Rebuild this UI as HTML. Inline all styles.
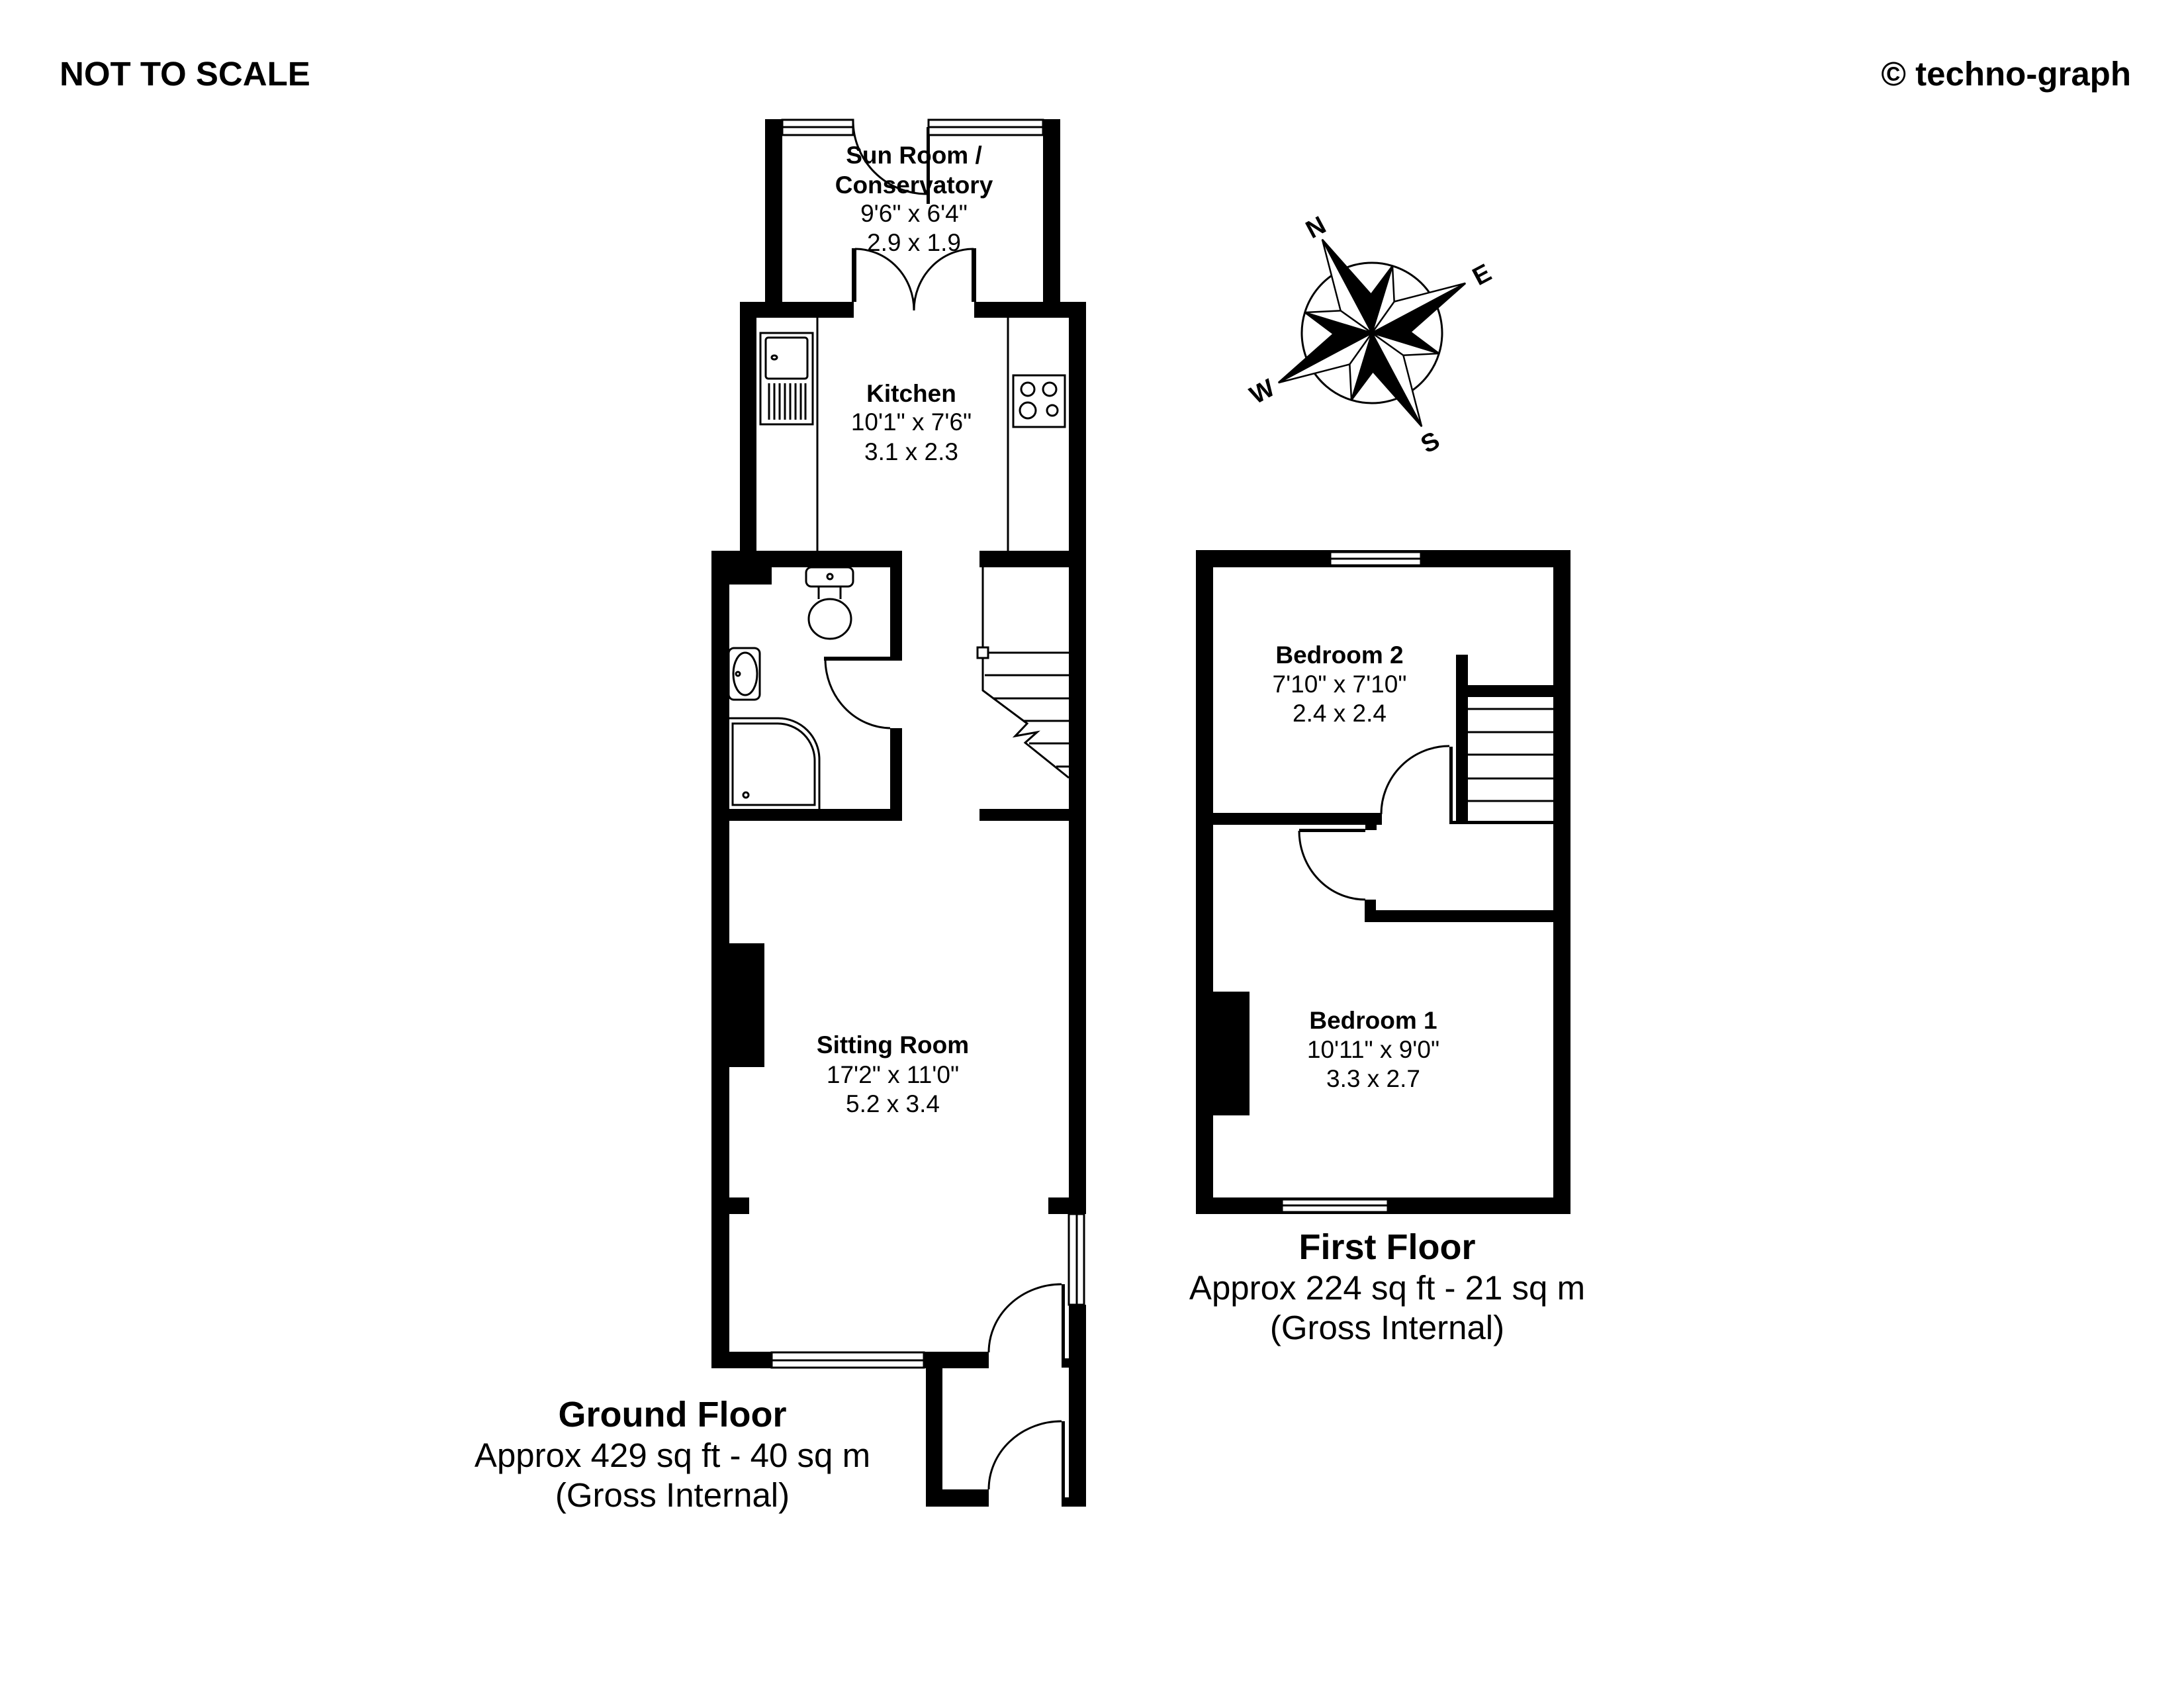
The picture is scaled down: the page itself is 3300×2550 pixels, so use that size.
<!DOCTYPE html>
<html><head><meta charset="utf-8"><style>
html,body{margin:0;padding:0;background:#fff}
svg{display:block}
text{font-family:"Liberation Sans",Arial,sans-serif;fill:#000}
.b{font-weight:bold}
</style></head><body>
<svg width="3300" height="2550" viewBox="0 0 3300 2550" xmlns="http://www.w3.org/2000/svg">
<rect width="3300" height="2550" fill="#fff"/>
<text x="90" y="129" class="b" font-size="51">NOT TO SCALE</text>
<text x="3220" y="129" class="b" font-size="51" text-anchor="end">© techno-graph</text>

<g fill="#000">
<rect x="1156" y="180" width="26" height="300"/>
<rect x="1576" y="180" width="26" height="300"/>
<rect x="1287" y="375" width="7" height="81"/>
<rect x="1468" y="375" width="7" height="81"/>
<rect x="1400" y="192" width="5" height="116"/>
<rect x="1118" y="456" width="172" height="24"/>
<rect x="1472" y="456" width="169" height="24"/>
<rect x="1118" y="456" width="25" height="401"/>
<rect x="1615" y="456" width="26" height="1378"/>
<rect x="1075" y="832" width="288" height="25"/>
<rect x="1480" y="832" width="161" height="25"/>
<rect x="1075" y="832" width="27" height="1235"/>
<rect x="1101" y="857" width="65" height="26"/>
<rect x="1345" y="857" width="18" height="140"/>
<rect x="1245" y="992" width="118" height="6"/>
<rect x="1345" y="1100" width="18" height="140"/>
<rect x="1075" y="1222" width="288" height="18"/>
<rect x="1480" y="1222" width="161" height="18"/>
<rect x="1102" y="1809" width="30" height="25"/>
<rect x="1584" y="1809" width="31" height="25"/>
<rect x="1102" y="1425" width="53" height="187"/>
<rect x="1615" y="1971" width="26" height="305"/>
<rect x="1075" y="2042" width="91" height="25"/>
<rect x="1396" y="2042" width="98" height="25"/>
<rect x="1604" y="1940" width="5" height="115"/>
<rect x="1399" y="2067" width="25" height="209"/>
<rect x="1399" y="2250" width="95" height="26"/>
<rect x="1604" y="2147" width="5" height="117"/>
<rect x="1604" y="2262" width="37" height="14"/>
<rect x="1604" y="2052" width="37" height="14"/>
</g>

<g fill="#fff" stroke="#000" stroke-width="3">
<rect x="1182" y="181" width="107" height="23"/>
<line x1="1182" y1="192" x2="1289" y2="192"/>
<rect x="1403" y="181" width="173" height="23"/>
<line x1="1403" y1="192" x2="1576" y2="192"/>
<rect x="1615" y="1834" width="23" height="137"/>
<line x1="1627" y1="1834" x2="1627" y2="1971"/>
<rect x="1166" y="2043" width="230" height="23"/>
<line x1="1166" y1="2055" x2="1396" y2="2055"/>
</g>

<g fill="none" stroke="#000" stroke-width="3">
<path d="M1289,182 A111,111 0 0 0 1400,293"/>
<path d="M1292,376 A89,93 0 0 1 1381,469"/>
<path d="M1471,376 A90,93 0 0 0 1381,469"/>
<line x1="1235" y1="480" x2="1235" y2="832"/>
<line x1="1523" y1="480" x2="1523" y2="832"/>
<rect x="1149" y="503" width="79" height="138"/>
<rect x="1157" y="510" width="63" height="62" rx="4"/>
<ellipse cx="1170" cy="540" rx="4" ry="3"/>
<path d="M1162,579V634M1170,579V634M1178,579V634M1186,579V634M1194,579V634M1202,579V634M1210,579V634M1217,579V634"/>
<rect x="1531" y="567" width="78" height="78"/>
<circle cx="1553" cy="588" r="10"/><circle cx="1586" cy="588" r="10"/>
<circle cx="1553" cy="620" r="12"/><circle cx="1590" cy="620" r="8"/>
<rect x="1218" y="857" width="71" height="29" rx="8"/>
<circle cx="1254" cy="871" r="4"/>
<path d="M1237,886V905M1270,886V905"/>
<ellipse cx="1254" cy="935" rx="32" ry="30"/>
<rect x="1101" y="979" width="47" height="78" rx="8"/>
<ellipse cx="1126" cy="1018" rx="18" ry="32"/>
<circle cx="1115" cy="1018" r="3"/>
<path d="M1101,1085H1176A62,62 0 0 1 1238,1147V1222"/>
<path d="M1107,1093H1175A56,56 0 0 1 1231,1149V1216H1107Z"/>
<circle cx="1127" cy="1201" r="4"/>
<path d="M1247,995 A100,105 0 0 0 1345,1100"/>
<path d="M1485,857V978M1485,994V1043L1552,1093L1534,1112L1567,1106L1549,1122L1615,1175"/>
<rect x="1477" y="978" width="16" height="16"/>
<path d="M1493,986H1615M1488,1020H1615M1500,1055H1615M1547,1089H1615M1555,1123H1615M1596,1158H1615"/>
<path d="M1494,2043 A110,103 0 0 1 1604,1940"/>
<path d="M1494,2250 A110,103 0 0 1 1604,2147"/>
</g>

<g fill="#000">
<rect x="1807" y="831" width="566" height="26"/>
<rect x="1807" y="831" width="26" height="1003"/>
<rect x="2347" y="831" width="26" height="1003"/>
<rect x="1807" y="1809" width="566" height="25"/>
<rect x="2200" y="989" width="18" height="256"/>
<rect x="2218" y="1035" width="129" height="18"/>
<rect x="2190" y="1128" width="5" height="117"/>
<rect x="2190" y="1240" width="157" height="5"/>
<rect x="1833" y="1228" width="255" height="18"/>
<rect x="2063" y="1246" width="17" height="8"/>
<rect x="1963" y="1252" width="100" height="5"/>
<rect x="2062" y="1359" width="17" height="34"/>
<rect x="2062" y="1375" width="285" height="18"/>
<rect x="1833" y="1498" width="55" height="187"/>
</g>
<g fill="#fff" stroke="#000" stroke-width="3">
<rect x="2010" y="834" width="137" height="20"/>
<line x1="2010" y1="844" x2="2147" y2="844"/>
<rect x="1937" y="1812" width="160" height="19"/>
<line x1="1937" y1="1821" x2="2097" y2="1821"/>
</g>
<g fill="none" stroke="#000" stroke-width="3">
<path d="M2218,1071H2347M2218,1106H2347M2218,1140H2347M2218,1176H2347M2218,1210H2347"/>
<path d="M2087,1230 A103,103 0 0 1 2190,1127"/>
<path d="M1963,1255 A100,104 0 0 0 2063,1359"/>
</g>

<g transform="translate(2073,503) rotate(-28)">
<circle r="106" fill="#fff" stroke="#000" stroke-width="3"/>
<g stroke="#000" stroke-width="2.5" stroke-linejoin="miter">
<g id="sec">
<path d="M0,0 L0,-106 L-22,-45Z" fill="#000"/>
<path d="M0,0 L0,-106 L22,-45Z" fill="#fff"/>
</g>
<use href="#sec" transform="rotate(45)"/>
<use href="#sec" transform="rotate(135)"/>
<use href="#sec" transform="rotate(225)"/>
<use href="#sec" transform="rotate(315)"/>
<g id="mn">
<path d="M0,0 L0,-160 L-26,-52Z" fill="#fff"/>
<path d="M0,0 L0,-160 L26,-52Z" fill="#000"/>
</g>
<use href="#mn" transform="rotate(90)"/>
<use href="#mn" transform="rotate(180)"/>
<use href="#mn" transform="rotate(270)"/>
</g>
<text x="0" y="-168" class="b" font-size="38" text-anchor="middle">N</text>
<text x="188" y="13" class="b" font-size="38" text-anchor="middle">E</text>
<text x="0" y="200" class="b" font-size="38" text-anchor="middle">S</text>
<text x="-188" y="13" class="b" font-size="38" text-anchor="middle">W</text>
</g>

<g font-size="37" text-anchor="middle">
<text x="1381" y="247" class="b">Sun Room /</text>
<text x="1381" y="292" class="b">Conservatory</text>
<text x="1381" y="335">9'6" x 6'4"</text>
<text x="1381" y="379">2.9 x 1.9</text>
<text x="1377" y="607" class="b">Kitchen</text>
<text x="1377" y="650">10'1" x 7'6"</text>
<text x="1377" y="695">3.1 x 2.3</text>
<text x="1349" y="1591" class="b">Sitting Room</text>
<text x="1349" y="1636">17'2" x 11'0"</text>
<text x="1349" y="1680">5.2 x 3.4</text>
<text x="2024" y="1002" class="b">Bedroom 2</text>
<text x="2024" y="1046">7'10" x 7'10"</text>
<text x="2024" y="1090">2.4 x 2.4</text>
<text x="2075" y="1554" class="b">Bedroom 1</text>
<text x="2075" y="1598">10'11" x 9'0"</text>
<text x="2075" y="1642">3.3 x 2.7</text>
</g>
<g text-anchor="middle">
<text x="1016" y="2155" class="b" font-size="54">Ground Floor</text>
<text x="1016" y="2216" font-size="51">Approx 429 sq ft - 40 sq m</text>
<text x="1016" y="2276" font-size="51">(Gross Internal)</text>
<text x="2096" y="1902" class="b" font-size="54">First Floor</text>
<text x="2096" y="1963" font-size="51">Approx 224 sq ft - 21 sq m</text>
<text x="2096" y="2023" font-size="51">(Gross Internal)</text>
</g>
</svg>
</body></html>
